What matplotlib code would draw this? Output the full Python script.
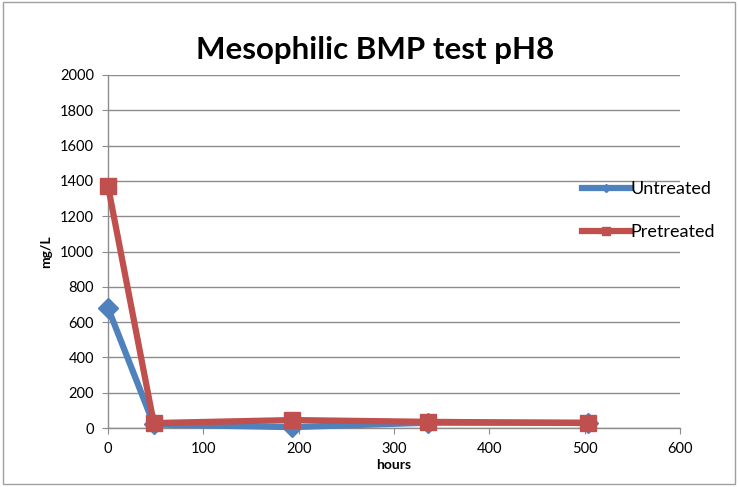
import matplotlib
matplotlib.use("Agg")
import matplotlib.pyplot as plt
from matplotlib.patches import Rectangle

plt.rcParams["font.family"] = ["Lato", "DejaVu Sans"]

# データ
hours = [0, 48, 193, 336, 504]
untreated = [680, 20, 5, 30, 30]
pretreated = [1370, 28, 45, 35, 28]

fig = plt.figure(figsize=(7.38, 4.87), dpi=100)
ax = fig.add_axes([108 / 738, 1 - 428 / 487, 572 / 738, 353 / 487])

ax.plot(hours, untreated, color="#4F81BD", lw=4.5, marker="D", ms=10,
        label="Untreated", zorder=3, clip_on=False)
ax.plot(hours, pretreated, color="#C0504D", lw=4.5, marker="s", ms=12,
        label="Pretreated", zorder=4, clip_on=False)

ax.set_xlim(0, 600)
ax.set_ylim(0, 2000)
ax.set_xticks(range(0, 601, 100))
ax.set_yticks(range(0, 2001, 200))
ax.grid(axis="y", color="#8c8c8c", lw=1)
ax.set_axisbelow(True)
for s in ["top", "right"]:
    ax.spines[s].set_visible(False)
for s in ["left", "bottom"]:
    ax.spines[s].set_color("#8c8c8c")
    ax.spines[s].set_linewidth(1)
ax.tick_params(colors="#8c8c8c", labelcolor="black", labelsize=10.5, length=4, pad=6)

fig.text(0.508, 0.897, "Mesophilic BMP test pH8", fontsize=22.5, fontweight="bold",
         ha="center", va="center")
ax.set_xlabel("hours", fontsize=10, fontweight="bold", labelpad=2)
ax.set_ylabel("mg/L", fontsize=10, fontweight="bold", labelpad=6)

leg = ax.legend(loc="upper left", bbox_to_anchor=(0.80, 0.745), frameon=False,
                fontsize=13, handlelength=2.7, handletextpad=0.0,
                labelspacing=1.5, markerscale=0.45)

fig.patches.append(Rectangle((0.004, 0.006), 0.992, 0.99, transform=fig.transFigure,
                             fill=False, ec="#a0a0a0", lw=1))

fig.savefig("out.png", dpi=100)
